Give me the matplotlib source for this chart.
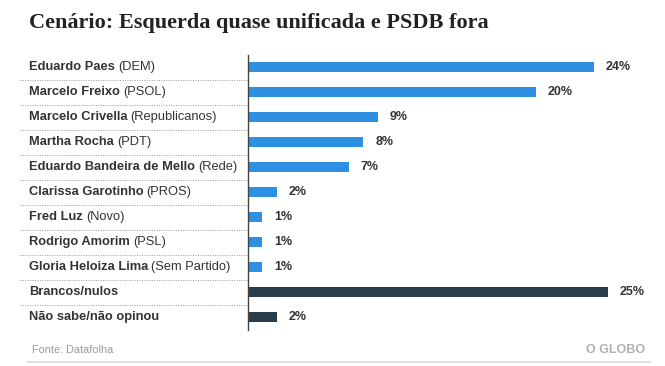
import matplotlib.pyplot as plt

# Cenário Datafolha - Rio de Janeiro
names = ['Eduardo Paes', 'Marcelo Freixo', 'Marcelo Crivella', 'Martha Rocha',
         'Eduardo Bandeira de Mello', 'Clarissa Garotinho', 'Fred Luz',
         'Rodrigo Amorim', 'Gloria Heloiza Lima', 'Brancos/nulos',
         'Não sabe/não opinou']
parties = ['(DEM)', '(PSOL)', '(Republicanos)', '(PDT)', '(Rede)', '(PROS)',
           '(Novo)', '(PSL)', '(Sem Partido)', '', '']
values = [24, 20, 9, 8, 7, 2, 1, 1, 1, 25, 2]
is_candidate = [True] * 9 + [False] * 2

W, H = 665, 366
blue = '#2f8fe2'
dark = '#2b3d4a'
txt = '#333333'

fig = plt.figure(figsize=(W / 100, H / 100), dpi=100)
fig.patch.set_facecolor('white')

# axes in pixel units
ax_left, ax_right, ax_top, ax_bot = 248, 650, 54.5, 329.5
ax = fig.add_axes([ax_left / W, 1 - ax_bot / H,
                   (ax_right - ax_left) / W, (ax_bot - ax_top) / H])
px_per_pct = 14.4
ax.set_xlim(0, (ax_right - ax_left) / px_per_pct)
ax.set_ylim(len(values) - 0.5, -0.5)

ypos = list(range(len(values)))
colors = [blue if c else dark for c in is_candidate]
ax.barh(ypos, values, height=0.42, color=colors)

for y, v in zip(ypos, values):
    ax.text(v + 12 / px_per_pct, y, f'{v}%', va='center', ha='left',
            fontsize=9, fontweight='bold', color=txt,
            family='Liberation Sans')

for s in ['top', 'right', 'bottom']:
    ax.spines[s].set_visible(False)
ax.spines['left'].set_color('#444444')
ax.spines['left'].set_linewidth(1.0)
ax.set_xticks([])
ax.set_yticks([])

# dotted separators to the left of the axis
sep_x0 = (20 - ax_left) / (ax_right - ax_left)
for i in range(len(values) - 1):
    ax.plot([sep_x0, 0], [i + 0.5, i + 0.5], transform=ax.get_yaxis_transform(),
            color='#999999', lw=0.7, ls=(0, (1, 1.5)), clip_on=False)

# labels: bold name + normal party
renderer = fig.canvas.get_renderer()
label_x = 29 / W
for y, n, p in zip(ypos, names, parties):
    yf = 1 - (ax_top + (y + 0.5) * 25) / H
    t = fig.text(label_x, yf, n, fontsize=9.3, fontweight='bold', color=txt,
                 va='center', ha='left', family='Liberation Sans')
    if p:
        bb = t.get_window_extent(renderer)
        fig.text(bb.x1 / W + 3 / W, yf, p, fontsize=9.3, color=txt,
                 va='center', ha='left', family='Liberation Sans')

fig.text(29 / W, 1 - 23 / H, 'Cenário: Esquerda quase unificada e PSDB fora',
         fontsize=16, fontweight='bold', color='#222222', va='center',
         ha='left', family='Liberation Serif')

fig.text(32 / W, 1 - 350 / H, 'Fonte: Datafolha', fontsize=7.8,
         color='#999999', va='center', ha='left', family='Liberation Sans')
fig.text(645 / W, 1 - 350 / H, 'O GLOBO', fontsize=9, fontweight='bold',
         color='#b0b0b0', va='center', ha='right', family='Liberation Sans')
fig.add_artist(plt.Line2D([28 / W, 650 / W], [1 - 362 / H, 1 - 362 / H],
                          color='#e2e2e2', lw=1.5))

fig.savefig('out.png', dpi=100)
